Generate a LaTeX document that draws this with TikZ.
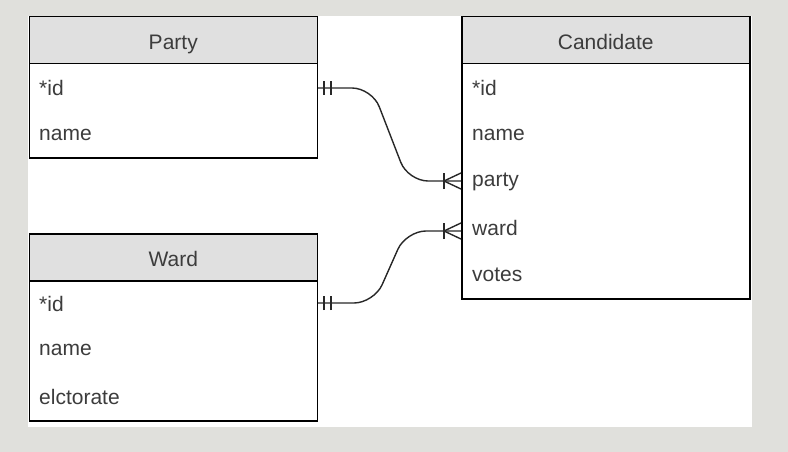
\documentclass[tikz,border=0pt]{standalone}
\usepackage{fontspec}
\setmainfont{Liberation Sans}
\definecolor{outerbg}{RGB}{224,224,220}
\definecolor{hdrgray}{RGB}{224,224,224}
\definecolor{txtgray}{RGB}{60,60,60}
\definecolor{linegray}{RGB}{40,40,40}
\begin{document}
\begin{tikzpicture}[x=1pt,y=-1pt,
  tbl/.style={draw=black, line width=1.5pt, fill=white, anchor=north west, minimum width=288pt, inner sep=0pt},
  hdr/.style={draw=black, line width=1.5pt, fill=hdrgray, anchor=north west, minimum width=288pt, minimum height=47pt, inner sep=0pt, text height=20pt, text depth=2pt, text=txtgray, font=\fontsize{21}{25}\selectfont},
  row/.style={anchor=west, inner sep=0pt, text=txtgray, font=\fontsize{21}{25}\selectfont},
  conn/.style={draw=linegray, line width=1.4pt},
]
% background
\fill[outerbg] (0,0) rectangle (788,452);
\fill[white] (28,16) rectangle (752,427);
\useasboundingbox (0,0) rectangle (788,452);

% Party
\node[tbl, minimum height=141pt] (party) at (28.5,16) {};
\node[hdr] (partyh) at (28.5,16) {Party};
\node[row] (pid) at (39,88) {*id};
\node[row] (pname) at (39,135) {name};

% Ward
\node[tbl, minimum height=187pt] (ward) at (28.5,233) {};
\node[hdr] (wardh) at (28.5,233) {Ward};
\node[row] (wid) at (39,304) {*id};
\node[row] (wname) at (39,350) {name};
\node[row] (welect) at (39,397) {elctorate};

% Candidate
\node[tbl, minimum height=282pt] (cand) at (461,16) {};
\node[hdr] (candh) at (461,16) {Candidate};
\node[row] (cid) at (472,88) {*id};
\node[row] (cname) at (472,135) {name};
\node[row] (cparty) at (472,182) {party};
\node[row] (cward) at (472,228) {ward};
\node[row] (cvotes) at (472,275) {votes};

% anchor points
\coordinate (pA) at (party.east |- 0,88);
\coordinate (cA) at (cand.west |- 0,181);
\coordinate (wA) at (ward.east |- 0,303);
\coordinate (cB) at (cand.west |- 0,231);

% connectors
\draw[conn, rounded corners=20pt] (pA) -- (372,88) -- (408,181) -- (cA);
\draw[conn, rounded corners=20pt] (wA) -- (374,303) -- (406,231) -- (cB);

% one-and-only-one marks
\foreach \p in {pA,wA}{
  \draw[conn] ([xshift=6pt,yshift=-7pt]\p) -- ([xshift=6pt,yshift=7pt]\p);
  \draw[conn] ([xshift=13pt,yshift=-7pt]\p) -- ([xshift=13pt,yshift=7pt]\p);
}
% one-or-many marks
\foreach \p in {cA,cB}{
  \draw[conn] ([xshift=-17pt]\p) -- ([yshift=8pt]\p);
  \draw[conn] ([xshift=-17pt]\p) -- ([yshift=-8pt]\p);
  \draw[conn] ([xshift=-17pt,yshift=-8pt]\p) -- ([xshift=-17pt,yshift=8pt]\p);
}
\end{tikzpicture}
\end{document}
